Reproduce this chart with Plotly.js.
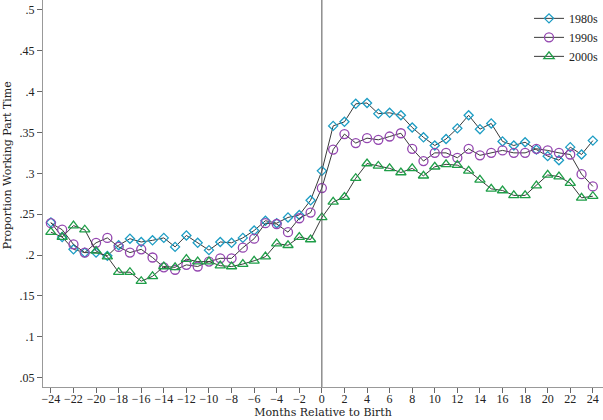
<!DOCTYPE html>
<html>
<head>
<meta charset="utf-8">
<script src="https://cdn.plot.ly/plotly-3.0.1.min.js"></script>
<style>html,body{margin:0;padding:0;background:#fff;}#chart{width:603px;height:420px;}</style>
</head>
<body>
<div id="chart"></div>
<script>
const months = [-24,-23,-22,-21,-20,-19,-18,-17,-16,-15,-14,-13,-12,-11,-10,-9,-8,-7,-6,-5,-4,-3,-2,-1,0,1,2,3,4,5,6,7,8,9,10,11,12,13,14,15,16,17,18,19,20,21,22,23,24];
const s1980s = [0.240,0.222,0.207,0.203,0.203,0.199,0.212,0.220,0.216,0.218,0.221,0.210,0.224,0.215,0.206,0.216,0.215,0.221,0.230,0.242,0.239,0.246,0.249,0.267,0.303,0.358,0.363,0.385,0.386,0.373,0.374,0.371,0.356,0.344,0.334,0.342,0.355,0.371,0.354,0.361,0.339,0.334,0.338,0.329,0.321,0.316,0.332,0.323,0.340];
const s1990s = [0.239,0.231,0.213,0.203,0.215,0.221,0.210,0.203,0.207,0.197,0.185,0.182,0.188,0.186,0.192,0.196,0.196,0.209,0.220,0.239,0.238,0.228,0.245,0.252,0.282,0.329,0.348,0.337,0.343,0.341,0.345,0.349,0.330,0.315,0.325,0.325,0.319,0.330,0.322,0.325,0.328,0.325,0.325,0.330,0.328,0.325,0.323,0.299,0.284];
const s2000s = [0.228,0.222,0.236,0.231,0.205,0.198,0.179,0.179,0.168,0.174,0.186,0.185,0.195,0.192,0.192,0.187,0.186,0.189,0.193,0.198,0.214,0.212,0.222,0.219,0.246,0.265,0.271,0.294,0.312,0.309,0.306,0.301,0.306,0.297,0.308,0.311,0.310,0.303,0.292,0.281,0.279,0.273,0.273,0.285,0.298,0.296,0.288,0.270,0.272];
const seriesNames = ['1980s','1990s','2000s'];
const xTickVals = [-24,-22,-20,-18,-16,-14,-12,-10,-8,-6,-4,-2,0,2,4,6,8,10,12,14,16,18,20,22,24];
const yTickVals = [0.05,0.1,0.15,0.2,0.25,0.3,0.35,0.4,0.45,0.5];
const yTickText = ['.05','.1','.15','.2','.25','.3','.35','.4','.45','.5'];
const xTitle = 'Months Relative to Birth';
const yTitle = 'Proportion Working Part Time';

const TICKFONT = 'Liberation Serif, Times New Roman, serif';
const TITLEFONT = 'DejaVu Serif, Liberation Serif, serif';
function tr(y, name, symbol, color, size) {
  return {
    x: months, y: y, name: name, type: 'scatter', mode: 'lines+markers',
    line: {color: '#3a3a3a', width: 1},
    marker: {symbol: symbol, color: color, size: size, line: {color: color, width: 1.3}}
  };
}
const data = [
  tr(s1980s, seriesNames[0], 'diamond-open', '#1d9dc4', 7),
  tr(s1990s, seriesNames[1], 'circle-open', '#9447b0', 9),
  tr(s2000s, seriesNames[2], 'triangle-up-open', '#1f9e48', 9)
];
const layout = {
  width: 603, height: 420,
  margin: {l: 43, r: 0, t: 0, b: 33},
  paper_bgcolor: '#fff', plot_bgcolor: '#fff',
  font: {family: TICKFONT, size: 12, color: '#222'},
  showlegend: true,
  legend: {x: 1, xanchor: 'right', y: 0.99, yanchor: 'top', bgcolor: 'rgba(0,0,0,0)',
           font: {family: TICKFONT, size: 12, color: '#222'}, tracegroupgap: 0, itemwidth: 30},
  xaxis: {
    range: [-24.7, 24.9], tickvals: xTickVals, tickangle: 0, ticks: 'outside', ticklen: 5, tickwidth: 1,
    tickcolor: '#666', showgrid: false, zeroline: false, showline: true, linecolor: '#999', linewidth: 1,
    ticklabelstandoff: -4,
    tickfont: {family: TICKFONT, size: 12, color: '#222'},
    title: {text: xTitle, font: {family: TITLEFONT, size: 11, color: '#222'}, standoff: 1}
  },
  yaxis: {
    range: [0.0386, 0.512], tickvals: yTickVals, ticktext: yTickText, ticks: 'outside', ticklen: 5, tickwidth: 1,
    tickcolor: '#666', showgrid: false, zeroline: false, showline: true, linecolor: '#999', linewidth: 1,
    tickfont: {family: TICKFONT, size: 12, color: '#222'}
  },
  annotations: [{text: yTitle, xref: 'paper', yref: 'paper', x: 0, y: 0.573, xanchor: 'center', yanchor: 'middle',
                 xshift: -36, textangle: -90, showarrow: false,
                 font: {family: TITLEFONT, size: 11, color: '#222'}}],
  shapes: [{type: 'line', xref: 'x', yref: 'paper', x0: 0, x1: 0, y0: 0, y1: 1,
            line: {color: '#555', width: 1}}]
};
Plotly.newPlot('chart', data, layout, {displayModeBar: false, staticPlot: true});
</script>
</body>
</html>
